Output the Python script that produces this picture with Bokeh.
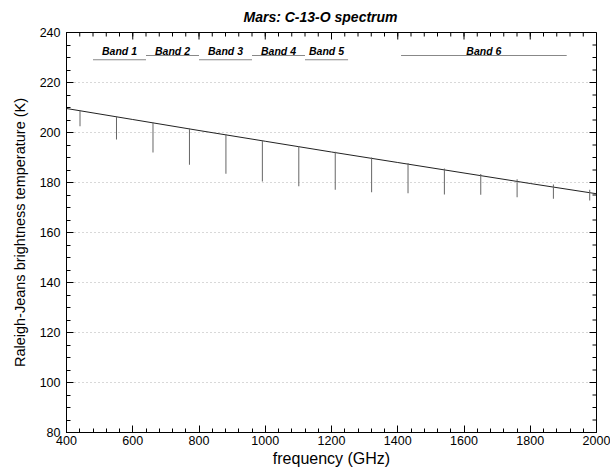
import math
from bokeh.plotting import figure
from bokeh.models import Range1d, FixedTicker, ColumnDataSource
from bokeh.core.properties import value
from bokeh.embed import file_html
from bokeh.resources import INLINE

# continuum (Rayleigh-Jeans brightness temperature, K) vs frequency (GHz)
cont_freq = [400, 600, 800, 1000, 1200, 1400, 1600, 1800, 2000]
cont_temp = [209.6, 205.2, 200.8, 196.5, 192.2, 188.0, 183.8, 179.6, 175.5]

# C-13-O absorption lines
line_freq = [440.8, 550.9, 661.1, 771.2, 881.3, 991.3, 1101.3, 1211.3,
             1321.1, 1431.0, 1540.8, 1650.6, 1760.3, 1869.9, 1979.5]
line_top = [208.7, 206.3, 204.0, 201.6, 199.3, 196.9, 194.6, 192.3,
            190.0, 187.8, 185.6, 183.4, 181.3, 179.2, 177.1]
line_depth = [202.5, 197.2, 192.0, 187.1, 183.5, 180.4, 178.5, 177.1,
              176.1, 175.7, 175.2, 175.1, 174.1, 173.5, 172.8]

# HIFI bands
band_names = ["Band 1", "Band 2", "Band 3", "Band 4", "Band 5", "Band 6"]
band_start = [480, 640, 800, 960, 1120, 1410]
band_end = [640, 800, 960, 1120, 1250, 1910]
band_level = [229.1, 230.8, 229.1, 230.8, 229.1, 230.8]

# axis ticks
xticks = list(range(400, 2001, 200))
xminor = list(range(400, 2001, 40))
yticks = list(range(80, 241, 20))
yminor = list(range(80, 241, 5))

FONT = "Liberation Sans"
X0, X1, Y0, Y1 = 400, 2000, 80, 240

p = figure(width=610, height=470, output_backend="svg", toolbar_location=None,
           x_range=Range1d(X0, X1), y_range=Range1d(Y0, Y1),
           min_border_left=66, min_border_right=14, min_border_top=32,
           min_border_bottom=38)

p.title.text = "Mars: C-13-O spectrum"
p.title.text_font = FONT
p.title.text_font_size = "14px"
p.title.text_font_style = "bold italic"
p.title.text_color = "black"
p.title.align = "left"
p.title.offset = 177
p.title.vertical_align = "top"
p.title.text_line_height = 0.8
p.title.standoff = 12

p.outline_line_color = "black"
p.outline_line_width = 1
p.background_fill_color = "white"
p.border_fill_color = "white"

p.xgrid.visible = False
p.ygrid.ticker = FixedTicker(ticks=yticks)
p.ygrid.grid_line_color = "#b0b0b0"
p.ygrid.grid_line_dash = "1 3"
p.ygrid.grid_line_width = 1

def style_axis(ax):
    ax.axis_line_color = "black"
    ax.major_tick_in = 7
    ax.major_tick_out = 0
    ax.minor_tick_in = 4
    ax.minor_tick_out = 0
    ax.major_tick_line_color = "black"
    ax.minor_tick_line_color = "black"
    ax.major_label_text_font = FONT
    ax.major_label_text_font_size = "12.5px"
    ax.major_label_text_color = "black"
    ax.axis_label_text_font = FONT
    ax.axis_label_text_font_style = "normal"
    ax.axis_label_text_color = "black"

xa = p.xaxis[0]
xa.ticker = FixedTicker(ticks=xticks, minor_ticks=xminor)
xa.axis_label = "frequency (GHz)"
style_axis(xa)
xa.axis_label_text_font_size = "16px"
xa.major_label_standoff = 3
xa.axis_label_standoff = 2

ya = p.yaxis[0]
ya.ticker = FixedTicker(ticks=yticks, minor_ticks=yminor)
ya.axis_label = "Raleigh-Jeans brightness temperature (K)"
style_axis(ya)
ya.axis_label_text_font_size = "14.5px"
ya.major_label_standoff = 6
ya.axis_label_standoff = 9

# mirrored inward ticks on top and right edges
p.ray(x=xticks, y=[Y1] * len(xticks), length=7, length_units="screen",
      angle=-math.pi / 2, line_color="black", line_width=1)
p.ray(x=xminor, y=[Y1] * len(xminor), length=4, length_units="screen",
      angle=-math.pi / 2, line_color="black", line_width=1)
p.ray(x=[X1] * len(yticks), y=yticks, length=7, length_units="screen",
      angle=math.pi, line_color="black", line_width=1)
p.ray(x=[X1] * len(yminor), y=yminor, length=4, length_units="screen",
      angle=math.pi, line_color="black", line_width=1)

# continuum
p.line(cont_freq, cont_temp, line_color="#222222", line_width=1)
# absorption lines
p.segment(x0=line_freq, y0=line_top, x1=line_freq, y1=line_depth,
          line_color="#666666", line_width=1)

# bands
band_mid = [(a + b) / 2 for a, b in zip(band_start, band_end)]
band_text_y = [232.8] * len(band_names)
p.segment(x0=band_start, y0=band_level, x1=band_end, y1=band_level,
          line_color="#888888", line_width=1)
src = ColumnDataSource(dict(x=band_mid, y=band_text_y, t=band_names))
p.text(x="x", y="y", text="t", source=src, text_align="center",
       text_baseline="middle", text_font=value(FONT),
       text_font_size="10.5px", text_font_style="bold italic",
       text_color="black")

open("out.html", "w").write(file_html(p, INLINE))
